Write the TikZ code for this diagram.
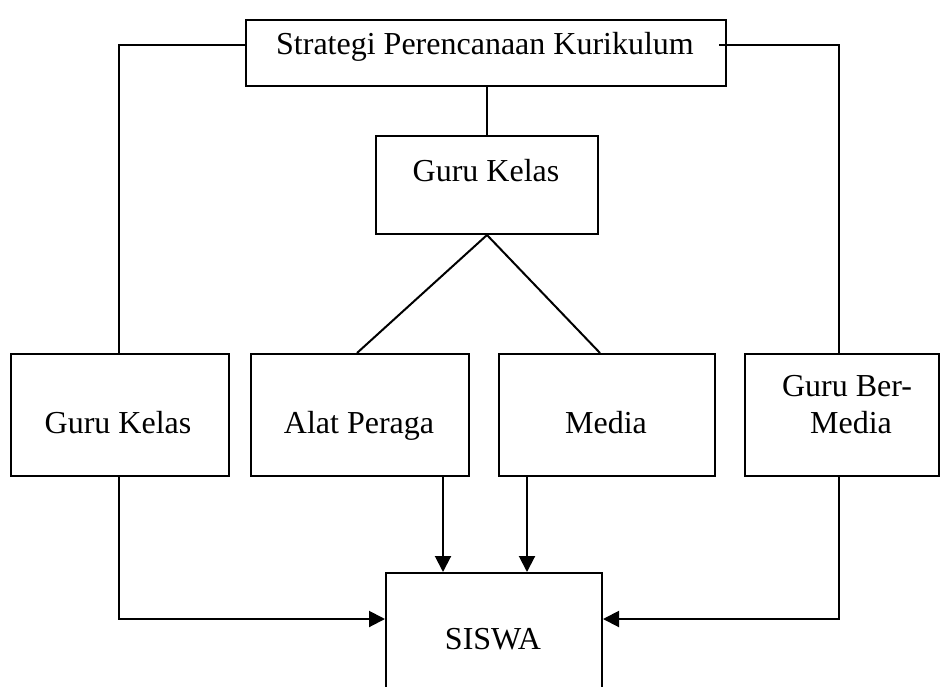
\documentclass[tikz,border=0pt]{standalone}
\usepackage{fontspec}
\setmainfont{Liberation Serif}
\usetikzlibrary{arrows.meta}
\begin{document}
\begin{tikzpicture}[x=1pt,y=-1pt,line width=2pt,
  boxstyle/.style={draw,line width=2pt,inner sep=0pt,anchor=north west},
  txt/.style={font=\fontsize{32}{36}\selectfont,inner sep=0pt,anchor=base},
  arr/.style={-{Triangle[length=16pt,width=16pt]}}]
\useasboundingbox (0,0) rectangle (950,686);
\begin{scope}
\clip (0,0) rectangle (950,686);
% boxes
\node[boxstyle,minimum width=480pt,minimum height=66pt] (top) at (245,19) {};
\node[boxstyle,minimum width=222pt,minimum height=98pt] (mid) at (375,135) {};
\node[boxstyle,minimum width=218pt,minimum height=122pt] (b1) at (10,353) {};
\node[boxstyle,minimum width=218pt,minimum height=122pt] (b2) at (250,353) {};
\node[boxstyle,minimum width=216pt,minimum height=122pt] (b3) at (498,353) {};
\node[boxstyle,minimum width=194pt,minimum height=122pt] (b4) at (744,353) {};
\node[boxstyle,minimum width=216pt,minimum height=130pt] (s) at (385,572) {};
% texts
\node[txt] (ttop) at (485,54) {Strategi Perencanaan Kurikulum};
\node[txt] (tmid) at (486,181) {Guru Kelas};
\node[txt] (tb1) at (118,433) {Guru Kelas};
\node[txt] (tb2) at (359,433) {Alat Peraga};
\node[txt] (tb3) at (606,433) {Media};
\node[txt] (tb4a) at (847,396) {Guru Ber-};
\node[txt] (tb4b) at (851,433) {Media};
\node[txt] (ts) at (493,649) {SISWA};
% coordinates
\coordinate (lc) at (119,45);
\coordinate (rc) at (839,45);
\coordinate (ll) at (119,619);
\coordinate (rl) at (839,619);
% connectors
\draw (top.west |- lc) -- (lc) -- (lc |- b1.north);
\draw (719,45) -- (rc) -- (rc |- b4.north);
\draw (top.south -| mid.north) -- (mid.north);
\draw (mid.south) -- (357,353);
\draw (mid.south) -- (600,353);
\draw[arr] (443,475) -- (443,572);
\draw[arr] (527,475) -- (527,572);
\draw[arr] (119,475) -- (ll) -- (s.west |- ll);
\draw[arr] (839,475) -- (rl) -- (s.east |- rl);
\end{scope}
\end{tikzpicture}
\end{document}
